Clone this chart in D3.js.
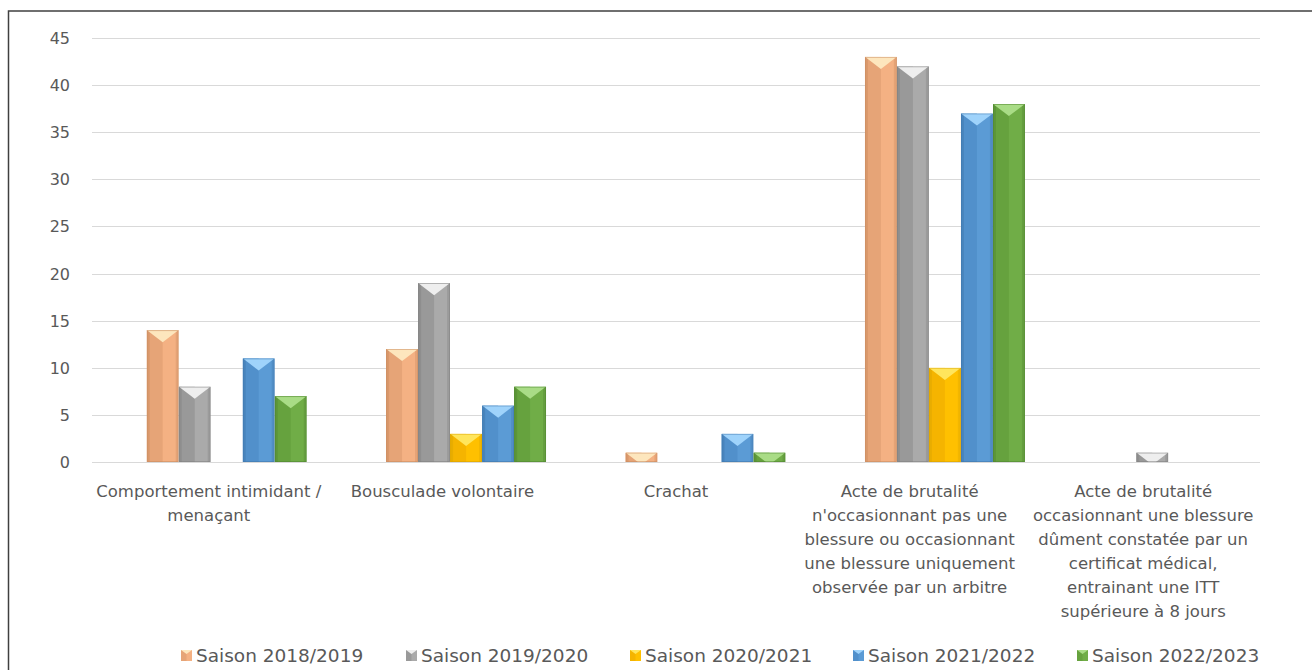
<!DOCTYPE html>
<html>
<head>
<meta charset="utf-8">
<script src="https://cdn.jsdelivr.net/npm/d3@7"></script>
<style>
  body { margin: 0; background: #fff; }
  svg { display: block; font-family: "DejaVu Sans", "Liberation Sans", sans-serif; }
</style>
</head>
<body>
<svg id="chart" width="1312" height="670"></svg>
<script>
// categories (multi-line labels)
var categories = [
  ["Comportement intimidant /", "menaçant"],
  ["Bousculade volontaire"],
  ["Crachat"],
  ["Acte de brutalité", "n'occasionnant pas une", "blessure ou occasionnant", "une blessure uniquement", "observée par un arbitre"],
  ["Acte de brutalité", "occasionnant une blessure", "dûment constatée par un", "certificat médical,", "entrainant une ITT", "supérieure à 8 jours"]
];
var seriesNames = ["Saison 2018/2019", "Saison 2019/2020", "Saison 2020/2021", "Saison 2021/2022", "Saison 2022/2023"];
var s2018 = [14, 12, 1, 43, 0];
var s2019 = [8, 19, 0, 42, 1];
var s2020 = [0, 3, 0, 10, 0];
var s2021 = [11, 6, 3, 37, 0];
var s2022 = [7, 8, 1, 38, 0];
var yTicks = [0, 5, 10, 15, 20, 25, 30, 35, 40, 45];

var seriesValues = [s2018, s2019, s2020, s2021, s2022];
// base, dark side, light top, edge
var palette = [
  {base: "#f4b183", dark: "#e6a477", top: "#fde6bd", edge: "#c98a5e"},
  {base: "#aaaaaa", dark: "#999999", top: "#eeeeee", edge: "#808080"},
  {base: "#ffc000", dark: "#f5b400", top: "#ffe55c", edge: "#d9a300"},
  {base: "#5b9bd5", dark: "#5190cb", top: "#9fd3fb", edge: "#3f76ab"},
  {base: "#70ad47", dark: "#66a23e", top: "#a9dc86", edge: "#4f8530"}
];

var svg = d3.select("#chart");

// outer frame
svg.append("rect").attr("x", 8.5).attr("y", 11).attr("width", 1320).attr("height", 700)
  .attr("fill", "none").attr("stroke", "#404040").attr("stroke-width", 1.5);

var plotL = 92, plotR = 1260, plotT = 38, plotB = 462;

// labels band and (slightly shifted) bar band, as in the source picture
var x0 = d3.scaleBand().domain(d3.range(categories.length)).range([plotL, plotR]);
var xb = d3.scaleBand().domain(d3.range(categories.length)).range([107, 1304]);
var x1 = d3.scaleBand().domain(d3.range(seriesNames.length)).range([0, xb.bandwidth()]).paddingOuter(1.24);
var y = d3.scaleLinear().domain([0, 45]).range([plotB, plotT]);

// gridlines
svg.append("g").selectAll("line").data(yTicks).join("line")
  .attr("x1", plotL).attr("x2", plotR)
  .attr("y1", function(d){ return Math.round(y(d)) + 0.5; })
  .attr("y2", function(d){ return Math.round(y(d)) + 0.5; })
  .attr("stroke", "#d9d9d9").attr("stroke-width", 1);

// y axis labels
svg.append("g").selectAll("text").data(yTicks).join("text")
  .attr("x", 70).attr("y", function(d){ return y(d) + 6; })
  .attr("text-anchor", "end").attr("font-size", 16).attr("fill", "#595959")
  .text(function(d){ return d; });

// bars with bevel look
var bars = [];
seriesValues.forEach(function(vals, si){
  vals.forEach(function(v, ci){
    if (v > 0) bars.push({s: si, c: ci, v: v});
  });
});

var defs = svg.append("defs");
var gBars = svg.append("g");
bars.forEach(function(b, i){
  var bx = xb(b.c) + x1(b.s), bw = x1.bandwidth();
  var yt = y(b.v), yb = y(0), h = yb - yt;
  var col = palette[b.s];
  var xm = bx + bw / 2, t = bw * 0.38;
  defs.append("clipPath").attr("id", "clip" + i).append("rect")
    .attr("x", bx).attr("y", yt).attr("width", bw).attr("height", h);
  var g = gBars.append("g").attr("clip-path", "url(#clip" + i + ")");
  g.append("rect").attr("x", bx).attr("y", yt).attr("width", bw).attr("height", h).attr("fill", col.base);
  g.append("rect").attr("x", bx).attr("y", yt).attr("width", bw / 2).attr("height", h).attr("fill", col.dark);
  g.append("rect").attr("x", bx).attr("y", yt).attr("width", 3).attr("height", h).attr("fill", col.edge).attr("opacity", 0.45);
  g.append("rect").attr("x", bx + bw - 3).attr("y", yt).attr("width", 3).attr("height", h).attr("fill", col.edge).attr("opacity", 0.35);
  g.append("polygon")
    .attr("points", [[bx, yt], [bx + bw, yt], [xm, yt + t]].map(function(p){ return p.join(","); }).join(" "))
    .attr("fill", col.top);
  g.append("rect").attr("x", bx + 0.5).attr("y", yt + 0.5).attr("width", bw - 1).attr("height", Math.max(0, h - 1))
    .attr("fill", "none").attr("stroke", col.edge).attr("stroke-width", 1).attr("opacity", 0.55);
});

// category labels
var gCat = svg.append("g");
categories.forEach(function(lines, ci){
  var cx = x0(ci) + x0.bandwidth() / 2;
  var txt = gCat.append("text").attr("text-anchor", "middle").attr("font-size", 16.5).attr("fill", "#595959");
  lines.forEach(function(l, li){
    txt.append("tspan").attr("x", cx).attr("y", 497 + li * 24).text(l);
  });
});

// legend
var legX = [181, 406, 630, 853, 1077];
var leg = svg.append("g");
seriesNames.forEach(function(n, si){
  var col = palette[si];
  var lx = legX[si], ly = 650;
  leg.append("rect").attr("x", lx).attr("y", ly).attr("width", 11).attr("height", 11).attr("fill", col.base);
  leg.append("rect").attr("x", lx).attr("y", ly).attr("width", 5.5).attr("height", 11).attr("fill", col.dark);
  leg.append("polygon").attr("points", [[lx, ly], [lx + 11, ly], [lx + 5.5, ly + 4]].map(function(p){ return p.join(","); }).join(" ")).attr("fill", col.top);
  leg.append("text").attr("x", lx + 15).attr("y", ly + 12).attr("font-size", 18.5).attr("fill", "#595959").text(n);
});
</script>
</body>
</html>
